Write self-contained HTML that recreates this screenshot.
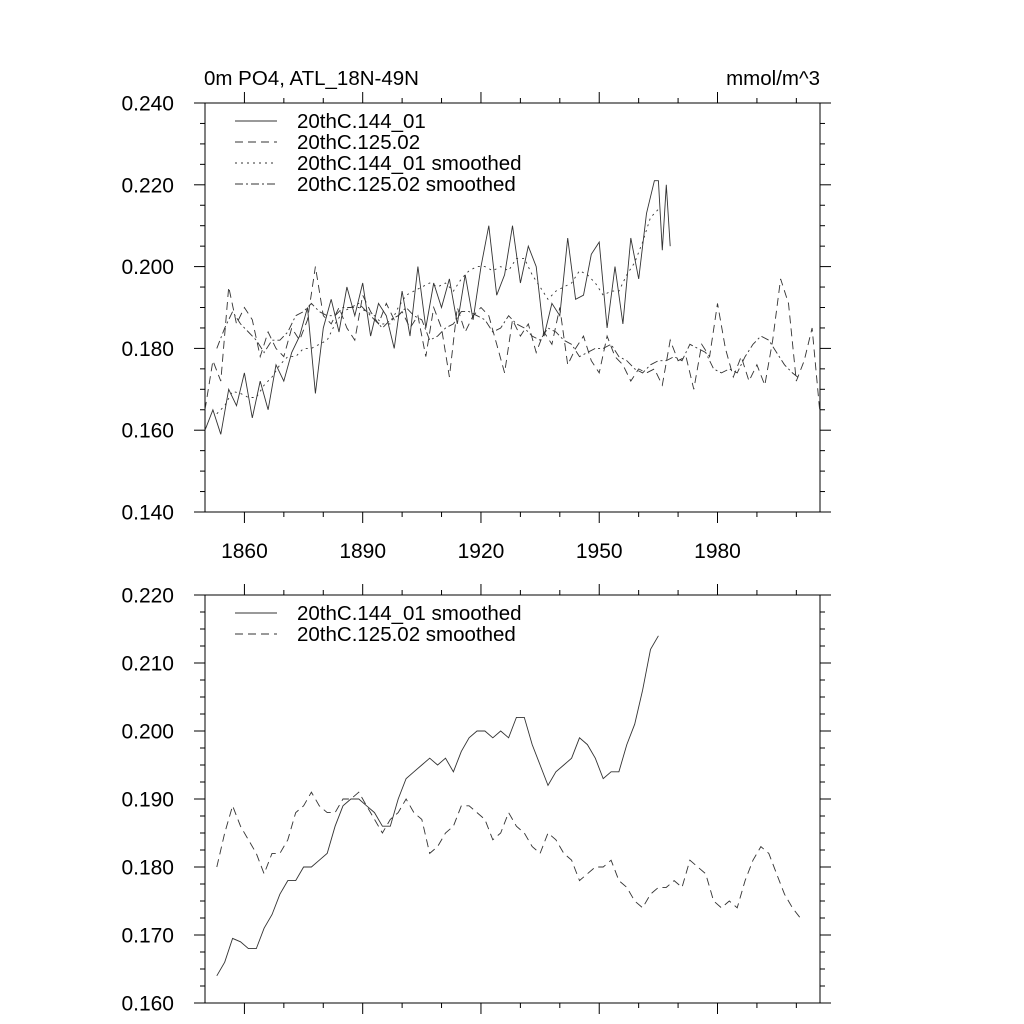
<!DOCTYPE html>
<html><head><meta charset="utf-8"><style>
body{margin:0;background:#fff;}
svg{display:block;font-family:"Liberation Sans",sans-serif;}
</style></head><body>
<svg id="chart" width="1024" height="1024" viewBox="0 0 1024 1024">
<text x="204" y="85" font-size="20.5">0m PO4, ATL_18N-49N</text>
<text x="820" y="85" font-size="20.5" text-anchor="end">mmol/m^3</text>
<g id="top"></g>
<g id="bot"></g>
</svg>
<script>
const rawYearsA=[1850,1852,1854,1856,1858,1860,1862,1864,1866,1868,1870,1872,1874,1876,1878,1880,1882,1884,1886,1888,1890,1892,1894,1896,1898,1900,1902,1904,1906,1908,1910,1912,1914,1916,1918,1920,1922,1924,1926,1928,1930,1932,1934,1936,1938,1940,1942,1944,1946,1948,1950,1952,1954,1956,1958,1960,1962,1964,1965,1966,1967,1968];
const rawA=[0.160,0.165,0.159,0.170,0.166,0.174,0.163,0.172,0.165,0.176,0.172,0.179,0.183,0.190,0.169,0.185,0.192,0.184,0.195,0.188,0.196,0.183,0.191,0.188,0.180,0.194,0.183,0.200,0.185,0.196,0.190,0.197,0.186,0.198,0.187,0.200,0.210,0.193,0.198,0.210,0.196,0.205,0.200,0.183,0.191,0.188,0.207,0.192,0.193,0.203,0.206,0.185,0.200,0.186,0.207,0.197,0.213,0.221,0.221,0.204,0.220,0.205];
const rawYearsB=[1850,1852,1854,1856,1858,1860,1862,1864,1866,1868,1870,1872,1874,1876,1878,1880,1882,1884,1886,1888,1890,1892,1894,1896,1898,1900,1902,1904,1906,1908,1910,1912,1914,1916,1918,1920,1922,1924,1926,1928,1930,1932,1934,1936,1938,1940,1942,1944,1946,1948,1950,1952,1954,1956,1958,1960,1962,1964,1966,1968,1970,1972,1974,1976,1978,1980,1982,1984,1986,1988,1990,1992,1994,1996,1998,2000,2002,2004,2006];
const rawB=[0.165,0.177,0.172,0.195,0.186,0.190,0.187,0.178,0.184,0.180,0.178,0.185,0.182,0.187,0.200,0.188,0.186,0.190,0.185,0.182,0.193,0.189,0.186,0.191,0.187,0.189,0.185,0.188,0.178,0.190,0.185,0.173,0.190,0.184,0.188,0.190,0.188,0.181,0.174,0.187,0.183,0.186,0.179,0.184,0.181,0.190,0.176,0.180,0.183,0.177,0.174,0.183,0.178,0.176,0.172,0.175,0.174,0.175,0.171,0.182,0.177,0.178,0.170,0.181,0.178,0.191,0.180,0.173,0.178,0.172,0.176,0.171,0.182,0.197,0.191,0.172,0.177,0.185,0.164];
const smYearsA=[1853,1855,1857,1859,1861,1863,1865,1867,1869,1871,1873,1875,1877,1879,1881,1883,1885,1887,1889,1891,1893,1895,1897,1899,1901,1903,1905,1907,1909,1911,1913,1915,1917,1919,1921,1923,1925,1927,1929,1931,1933,1935,1937,1939,1941,1943,1945,1947,1949,1951,1953,1955,1957,1959,1961,1963,1965];
const smA=[0.164,0.166,0.1695,0.169,0.168,0.168,0.171,0.173,0.176,0.178,0.178,0.180,0.180,0.181,0.182,0.186,0.189,0.190,0.190,0.189,0.188,0.186,0.186,0.190,0.193,0.194,0.195,0.196,0.195,0.196,0.194,0.197,0.199,0.200,0.200,0.199,0.200,0.199,0.202,0.202,0.198,0.195,0.192,0.194,0.195,0.196,0.199,0.198,0.196,0.193,0.194,0.194,0.198,0.201,0.206,0.212,0.214];
const smYearsB=[1853,1855,1857,1859,1861,1863,1865,1867,1869,1871,1873,1875,1877,1879,1881,1883,1885,1887,1889,1891,1893,1895,1897,1899,1901,1903,1905,1907,1909,1911,1913,1915,1917,1919,1921,1923,1925,1927,1929,1931,1933,1935,1937,1939,1941,1943,1945,1947,1949,1951,1953,1955,1957,1959,1961,1963,1965,1967,1969,1971,1973,1975,1977,1979,1981,1983,1985,1987,1989,1991,1993,1995,1997,1999,2001];
const smB=[0.180,0.185,0.189,0.186,0.184,0.182,0.179,0.182,0.182,0.184,0.188,0.189,0.191,0.189,0.188,0.188,0.190,0.190,0.191,0.189,0.187,0.185,0.187,0.188,0.190,0.188,0.187,0.182,0.183,0.185,0.186,0.189,0.189,0.188,0.187,0.184,0.185,0.188,0.186,0.185,0.183,0.182,0.185,0.184,0.182,0.181,0.178,0.179,0.180,0.180,0.181,0.178,0.177,0.175,0.174,0.176,0.177,0.177,0.178,0.177,0.181,0.180,0.179,0.175,0.174,0.175,0.174,0.178,0.181,0.183,0.182,0.179,0.176,0.174,0.1725];
const xTickLabels=[1860,1890,1920,1950,1980];
const topYTicks=[0.140,0.160,0.180,0.200,0.220,0.240];
const botYTicks=[0.160,0.170,0.180,0.190,0.200,0.210,0.220];

const NS="http://www.w3.org/2000/svg";
const X0=205,X1=820,YR0=1850,YR1=2006;
const FS=21;
function xs(y){return X0+(y-YR0)/(YR1-YR0)*(X1-X0);}
function mk(parent,tag,attrs){const e=document.createElementNS(NS,tag);for(const k in attrs)e.setAttribute(k,attrs[k]);parent.appendChild(e);return e;}

function panel(g,top,bot,vmin,vmax,majors,minorStep,showX){
  const ys=v=>top+(vmax-v)/(vmax-vmin)*(bot-top);
  const frame=mk(g,'rect',{x:X0,y:top,width:X1-X0,height:bot-top,fill:'none',stroke:'#000','stroke-width':1});
  
  
  for(let yr=1860;yr<=YR1;yr+=10){
    const len=((yr-1860)%30===0)?11:5,x=xs(yr);
    const t1=mk(g,'line',{x1:x,x2:x,y1:top,y2:top-len,stroke:'#000'});
    
    
    const t2=mk(g,'line',{x1:x,x2:x,y1:bot,y2:bot+len,stroke:'#000'});
    
    
  }
  if(showX){xTickLabels.forEach(yr=>{const t=mk(g,'text',{x:xs(yr),y:bot+46,'font-size':FS,'text-anchor':'middle'});t.textContent=yr;
    
    });}
  const n=Math.round((vmax-vmin)/minorStep);
  for(let i=0;i<=n;i++){
    const v=vmin+i*minorStep,y=ys(v);
    const isMaj=majors.some(m=>Math.abs(m-v)<1e-6),len=isMaj?11:5;
    const a=mk(g,'line',{x1:X0,x2:X0-len,y1:y,y2:y,stroke:'#000'});
    
    
    const b=mk(g,'line',{x1:X1,x2:X1+len,y1:y,y2:y,stroke:'#000'});
    
    
  }
  majors.forEach(v=>{const t=mk(g,'text',{x:X0-31,y:ys(v)+7.5,'font-size':FS,'text-anchor':'end'});t.textContent=v.toFixed(3);
    
    });
  return ys;
}
function series(g,ys,years,vals,dash,name){
  const d=years.map((yr,i)=>(i?'L':'M')+xs(yr).toFixed(1)+','+ys(vals[i]).toFixed(1)).join('');
  const p=mk(g,'path',{d:d,fill:'none',stroke:'#333','stroke-width':0.9});
  if(dash)p.setAttribute('stroke-dasharray',dash);
  
  
}
function legend(g,x,y,items){
  items.forEach((it,i)=>{const yy=y+i*21;
    const l=mk(g,'line',{x1:x,x2:x+42,y1:yy,y2:yy,stroke:'#333','stroke-width':0.9});
    if(it[1])l.setAttribute('stroke-dasharray',it[1]);
    
    
    const t=mk(g,'text',{x:x+62,y:yy+7,'font-size':20.5});t.textContent=it[0];
    
    });
}
const gt=document.getElementById('top'),gb=document.getElementById('bot');
const yt=panel(gt,103,512,0.140,0.240,topYTicks,0.005,true);
series(gt,yt,rawYearsA,rawA,null,'series-144-01');
series(gt,yt,rawYearsB,rawB,'8,5','series-125-02');
series(gt,yt,smYearsA,smA,'2,4','series-144-01-smoothed');
series(gt,yt,smYearsB,smB,'8,3,2,3','series-125-02-smoothed');
legend(gt,235,121,[['20thC.144_01',null],['20thC.125.02','8,5'],['20thC.144_01 smoothed','2,4'],['20thC.125.02 smoothed','8,3,2,3']]);
const yb=panel(gb,595,1003,0.160,0.220,botYTicks,0.0025,false);
series(gb,yb,smYearsA,smA,null,'smoothed-144-01');
series(gb,yb,smYearsB,smB,'8,5','smoothed-125-02');
legend(gb,235,613,[['20thC.144_01 smoothed',null],['20thC.125.02 smoothed','8,5']]);
</script>
</body></html>
